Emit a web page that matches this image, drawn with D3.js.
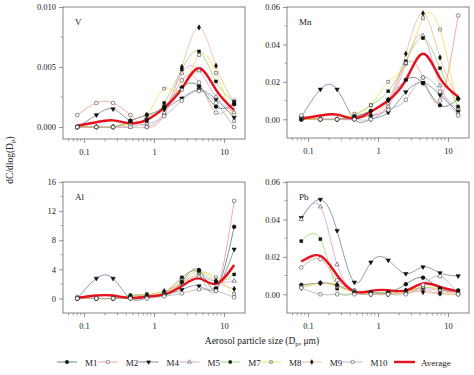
<!DOCTYPE html>
<html>
<head>
<meta charset="utf-8">
<script src="https://cdn.jsdelivr.net/npm/d3@7"></script>
<style>
  body { margin: 0; background: #fff; }
  text { font-family: "Liberation Serif", "DejaVu Serif", serif; fill: #222; }
</style>
</head>
<body>
<svg width="474" height="375"></svg>
<script>
// particle size (stage midpoint, um)
const sizes = [0.08, 0.15, 0.26, 0.46, 0.79, 1.4, 2.5, 4.4, 7.7, 14];

const seriesNames = ["M1", "M2", "M4", "M5", "M7", "M8", "M9", "M10"];

// V
const vM1 = [0, 0, 0, 0.0005, 0.001, 0.0017, 0.0033, 0.0034, 0.0017, 0.0019];
const vM2 = [0.001, 0.002, 0.002, 0.001, 0, 0.001, 0.0039, 0.0037, 0.0012, 0.0022];
const vM4 = [0, 0.001, 0.0015, 0.0005, 0.0006, 0.0015, 0.0024, 0.0031, 0.0023, 0.0008];
const vM5 = [0, 0, 0, 0, 0.0003, 0.0012, 0.0045, 0.0047, 0.0025, 0.0012];
const vM7 = [0, 0, 0, 0.0003, 0.0005, 0.002, 0.0048, 0.0063, 0.0038, 0.0021];
const vM8 = [0, 0, 0, 0.0002, 0.0009, 0.0032, 0.0031, 0.006, 0.0045, 0.0005];
const vM9 = [0, 0, 0, 0.0005, 0.001, 0.0015, 0.005, 0.0083, 0.0051, 0.002];
const vM10 = [0, 0, 0, 0, 0, 0.0009, 0.0022, 0.003, 0.002, 0];
const vAvg = [0.0001, 0.0004, 0.00055, 0.0003, 0.0006, 0.0016, 0.0032, 0.0049, 0.0031, 0.0014];

// Mn
const mnM1 = [0, 0, 0, 0.0014, 0.0045, 0.0104, 0.021, 0.0193, 0.0075, 0.011];
const mnM2 = [0, 0, 0, 0, 0.002, 0.008, 0.0296, 0.0223, 0.01, 0.0554];
const mnM4 = [0.001, 0.016, 0.016, 0, 0, 0.0036, 0.0146, 0.0195, 0.013, 0.004];
const mnM5 = [0, 0, 0, 0, 0.002, 0.0068, 0.03, 0.0446, 0.018, 0.006];
const mnM7 = [0, 0, 0, 0.002, 0.0075, 0.015, 0.031, 0.0434, 0.0273, 0.0068];
const mnM8 = [0, 0, 0, 0.003, 0.0075, 0.02, 0.03, 0.054, 0.048, 0.003];
const mnM9 = [0, 0, 0, 0.0014, 0.002, 0.0104, 0.035, 0.0566, 0.033, 0.011];
const mnM10 = [0.0021, 0, 0, 0, 0, 0.005, 0.0104, 0.0223, 0.0148, 0.002];
const mnAvg = [0.0003, 0.002, 0.0025, 0.0005, 0.004, 0.01, 0.021, 0.035, 0.022, 0.012];

// Al
const alM1 = [0, 0, 0, 0.3, 0.3, 0.45, 2.3, 3.9, 1.4, 9.85];
const alM2 = [0.2, 0, 0, 0, 0.2, 0.8, 2.75, 3.4, 1.05, 13.4];
const alM4 = [0, 2.75, 2.75, 0, 0.1, 0.5, 1.2, 1.7, 1.3, 6.75];
const alM5 = [0, 0, 0, 0.1, 0.4, 0.7, 2.2, 3.0, 2.3, 2.4];
const alM7 = [0, 0, 0, 0.45, 0.5, 0.8, 2.9, 3.7, 2.3, 3.3];
const alM8 = [0, 0, 0, 0.2, 0.6, 0.9, 2.0, 3.5, 2.9, 0.6];
const alM9 = [0, 0, 0, 0.3, 0.5, 1.0, 2.2, 3.8, 2.4, 1.3];
const alM10 = [0, 0, 0, 0, 0, 0.3, 0.7, 1.25, 1.05, 0.15];
const alAvg = [0.1, 0.4, 0.4, 0.05, 0.25, 0.55, 1.7, 2.75, 2.0, 4.6];

// Pb
const pbM1 = [0.005, 0.006, 0.0048, 0.0012, 0.001, 0.001, 0.0054, 0.0089, 0.003, 0.0018];
const pbM2 = [0.0143, 0.0188, 0.0075, 0.002, 0.0005, 0.0005, 0.0007, 0.002, 0.0004, 0];
const pbM4 = [0.0409, 0.0507, 0.034, 0.0064, 0.0171, 0.0182, 0.011, 0.0146, 0.0114, 0.0098];
const pbM5 = [0.04, 0.0468, 0.0159, 0.002, 0.001, 0.001, 0.002, 0.003, 0.002, 0.001];
const pbM7 = [0.0284, 0.0295, 0.003, 0.001, 0.001, 0.001, 0.002, 0.0036, 0.003, 0.002];
const pbM8 = [0.004, 0.006, 0.004, 0.001, 0, 0, 0.001, 0.004, 0.002, 0];
const pbM9 = [0.0034, 0.006, 0.005, 0.001, 0, 0, 0.002, 0.0012, 0.0004, 0.0018];
const pbM10 = [0.0034, 0, 0, 0, 0, 0, 0, 0.005, 0.0096, 0];
const pbAvg = [0.0175, 0.0205, 0.0102, 0.0015, 0.0018, 0.0022, 0.002, 0.0058, 0.004, 0.0015];

const xTicks = [0.1, 1, 10];

// 样式
const colors = ["#2f6f62", "#f08a80", "#5c7396", "#d58ed0", "#8fcb5a", "#f0d840", "#e0b48a", "#a8a8a8"];
const shapes = [d3.symbolCircle, d3.symbolCircle, d3.symbolTriangle, d3.symbolTriangle,
  d3.symbolSquare, d3.symbolSquare, d3.symbolDiamond, d3.symbolCircle];
const symSize = [11, 11, 8, 8, 8, 8, 8, 11];
const filled = [true, false, true, false, true, false, true, false];
const flip = [false, false, true, false, false, false, false, false];

const panels = [
  { name: "V", series: [vM1, vM2, vM4, vM5, vM7, vM8, vM9, vM10], avg: vAvg,
    y: [-0.001, 0.01], ticks: [0, 0.005, 0.01], minor: [0.0025, 0.0075], fmt: ".3f",
    x0: 63, y0: 7, w: 182, h: 132 },
  { name: "Mn", series: [mnM1, mnM2, mnM4, mnM5, mnM7, mnM8, mnM9, mnM10], avg: mnAvg,
    y: [-0.01, 0.06], ticks: [0, 0.02, 0.04, 0.06], minor: [0.01, 0.03, 0.05], fmt: ".2f",
    x0: 287, y0: 7, w: 182, h: 131 },
  { name: "Al", series: [alM1, alM2, alM4, alM5, alM7, alM8, alM9, alM10], avg: alAvg,
    y: [-2, 16], ticks: [0, 4, 8, 12, 16], minor: [2, 6, 10, 14], fmt: "d",
    x0: 63, y0: 182, w: 182, h: 131 },
  { name: "Pb", series: [pbM1, pbM2, pbM4, pbM5, pbM7, pbM8, pbM9, pbM10], avg: pbAvg,
    y: [-0.01, 0.06], ticks: [0, 0.02, 0.04, 0.06], minor: [0.01, 0.03, 0.05], fmt: ".2f",
    x0: 287, y0: 182, w: 182, h: 131 }
];

const svg = d3.select("svg");
const frame = "#666";

// 对数轴的次刻度
const minorX = [];
[0.01, 0.1, 1, 10].forEach((d) => {
  for (let k = 2; k <= 9; k++) minorX.push(d * k);
});

panels.forEach((p) => {
  const x = d3.scaleLog().domain([0.05, 20]).range([0, p.w]);
  const y = d3.scaleLinear().domain(p.y).range([p.h, 0]);
  const g = svg.append("g").attr("transform", `translate(${p.x0},${p.y0})`);

  g.append("rect")
    .attr("width", p.w).attr("height", p.h)
    .attr("fill", "none").attr("stroke", frame).attr("stroke-width", 0.8);

  // x 轴
  const xa = g.append("g").attr("transform", `translate(0,${p.h})`)
    .call(d3.axisBottom(x).tickValues(xTicks).tickFormat(d3.format("")).tickSize(4).tickPadding(6));
  xa.append("g").selectAll("line")
    .data(minorX.filter((d) => d > 0.05 && d < 20))
    .join("line")
    .attr("x1", (d) => x(d)).attr("x2", (d) => x(d))
    .attr("y1", 0).attr("y2", 2.5)
    .attr("stroke", frame).attr("stroke-width", 0.6);

  // y 轴
  const ya = g.append("g")
    .call(d3.axisLeft(y).tickValues(p.ticks).tickFormat(d3.format(p.fmt)).tickSize(4).tickPadding(3));
  ya.append("g").selectAll("line")
    .data(p.minor)
    .join("line")
    .attr("x1", 0).attr("x2", -2.5)
    .attr("y1", (d) => y(d)).attr("y2", (d) => y(d))
    .attr("stroke", frame).attr("stroke-width", 0.6);

  [xa, ya].forEach((a) => {
    a.select(".domain").remove();
    a.selectAll(".tick line").attr("stroke", frame).attr("stroke-width", 0.7);
    a.selectAll(".tick text").attr("font-size", 8.5)
      .attr("font-family", "Liberation Serif").attr("fill", "#222");
  });

  g.append("text").attr("x", 12).attr("y", 18).attr("font-size", 9).text(p.name);

  // 三次样条
  const line = d3.line()
    .curve(d3.curveNatural)
    .x((d, i) => x(sizes[i]))
    .y((d) => y(d));

  p.series.forEach((s, k) => {
    g.append("path").attr("d", line(s))
      .attr("fill", "none").attr("stroke", colors[k]).attr("stroke-width", 0.7);
  });

  g.append("path").attr("d", line(p.avg))
    .attr("fill", "none").attr("stroke", "#e8101a").attr("stroke-width", 2.4);

  p.series.forEach((s, k) => {
    const sym = d3.symbol().type(shapes[k]).size(symSize[k]);
    g.append("g").selectAll("path")
      .data(s)
      .join("path")
      .attr("d", sym())
      .attr("transform", (d, i) => `translate(${x(sizes[i])},${y(d)})${flip[k] ? " rotate(180)" : ""}`)
      .attr("fill", filled[k] ? "#111" : "#fff")
      .attr("stroke", filled[k] ? "#111" : "#444")
      .attr("stroke-width", 0.6);
  });
});

// 轴标题
const yLab = svg.append("text")
  .attr("transform", "translate(13,160) rotate(-90)")
  .attr("text-anchor", "middle").attr("font-size", 9.5);
yLab.append("tspan").text("dC/dlog(D");
yLab.append("tspan").attr("font-size", 7).attr("dy", 2).text("p");
yLab.append("tspan").attr("dy", -2).text(")");

const xLab = svg.append("text")
  .attr("x", 262).attr("y", 344)
  .attr("text-anchor", "middle").attr("font-size", 9.5);
xLab.append("tspan").text("Aerosol particle size (D");
xLab.append("tspan").attr("font-size", 7).attr("dy", 2).text("p");
xLab.append("tspan").attr("dy", -2).text(", \u03bcm)");

// 图例
const legend = svg.append("g").attr("transform", "translate(0,362)");
seriesNames.forEach((name, k) => {
  const lx = 57 + k * 40.8;
  const item = legend.append("g").attr("transform", `translate(${lx},0)`);
  item.append("line").attr("x1", 0).attr("x2", 20).attr("y1", 0).attr("y2", 0)
    .attr("stroke", colors[k]).attr("stroke-width", 0.8);
  item.append("path")
    .attr("d", d3.symbol().type(shapes[k]).size(symSize[k] * 0.8)())
    .attr("transform", `translate(10,0)${flip[k] ? " rotate(180)" : ""}`)
    .attr("fill", filled[k] ? "#111" : "#fff")
    .attr("stroke", filled[k] ? "#111" : "#444").attr("stroke-width", 0.6);
  item.append("text").attr("x", 28).attr("y", 3.5).attr("font-size", 9).text(name);
});
const avgItem = legend.append("g").attr("transform", "translate(394,0)");
avgItem.append("line").attr("x1", 0).attr("x2", 21).attr("y1", 0).attr("y2", 0)
  .attr("stroke", "#e8101a").attr("stroke-width", 2.4);
avgItem.append("text").attr("x", 27).attr("y", 3.5).attr("font-size", 9).text("Average");
</script>
</body>
</html>
